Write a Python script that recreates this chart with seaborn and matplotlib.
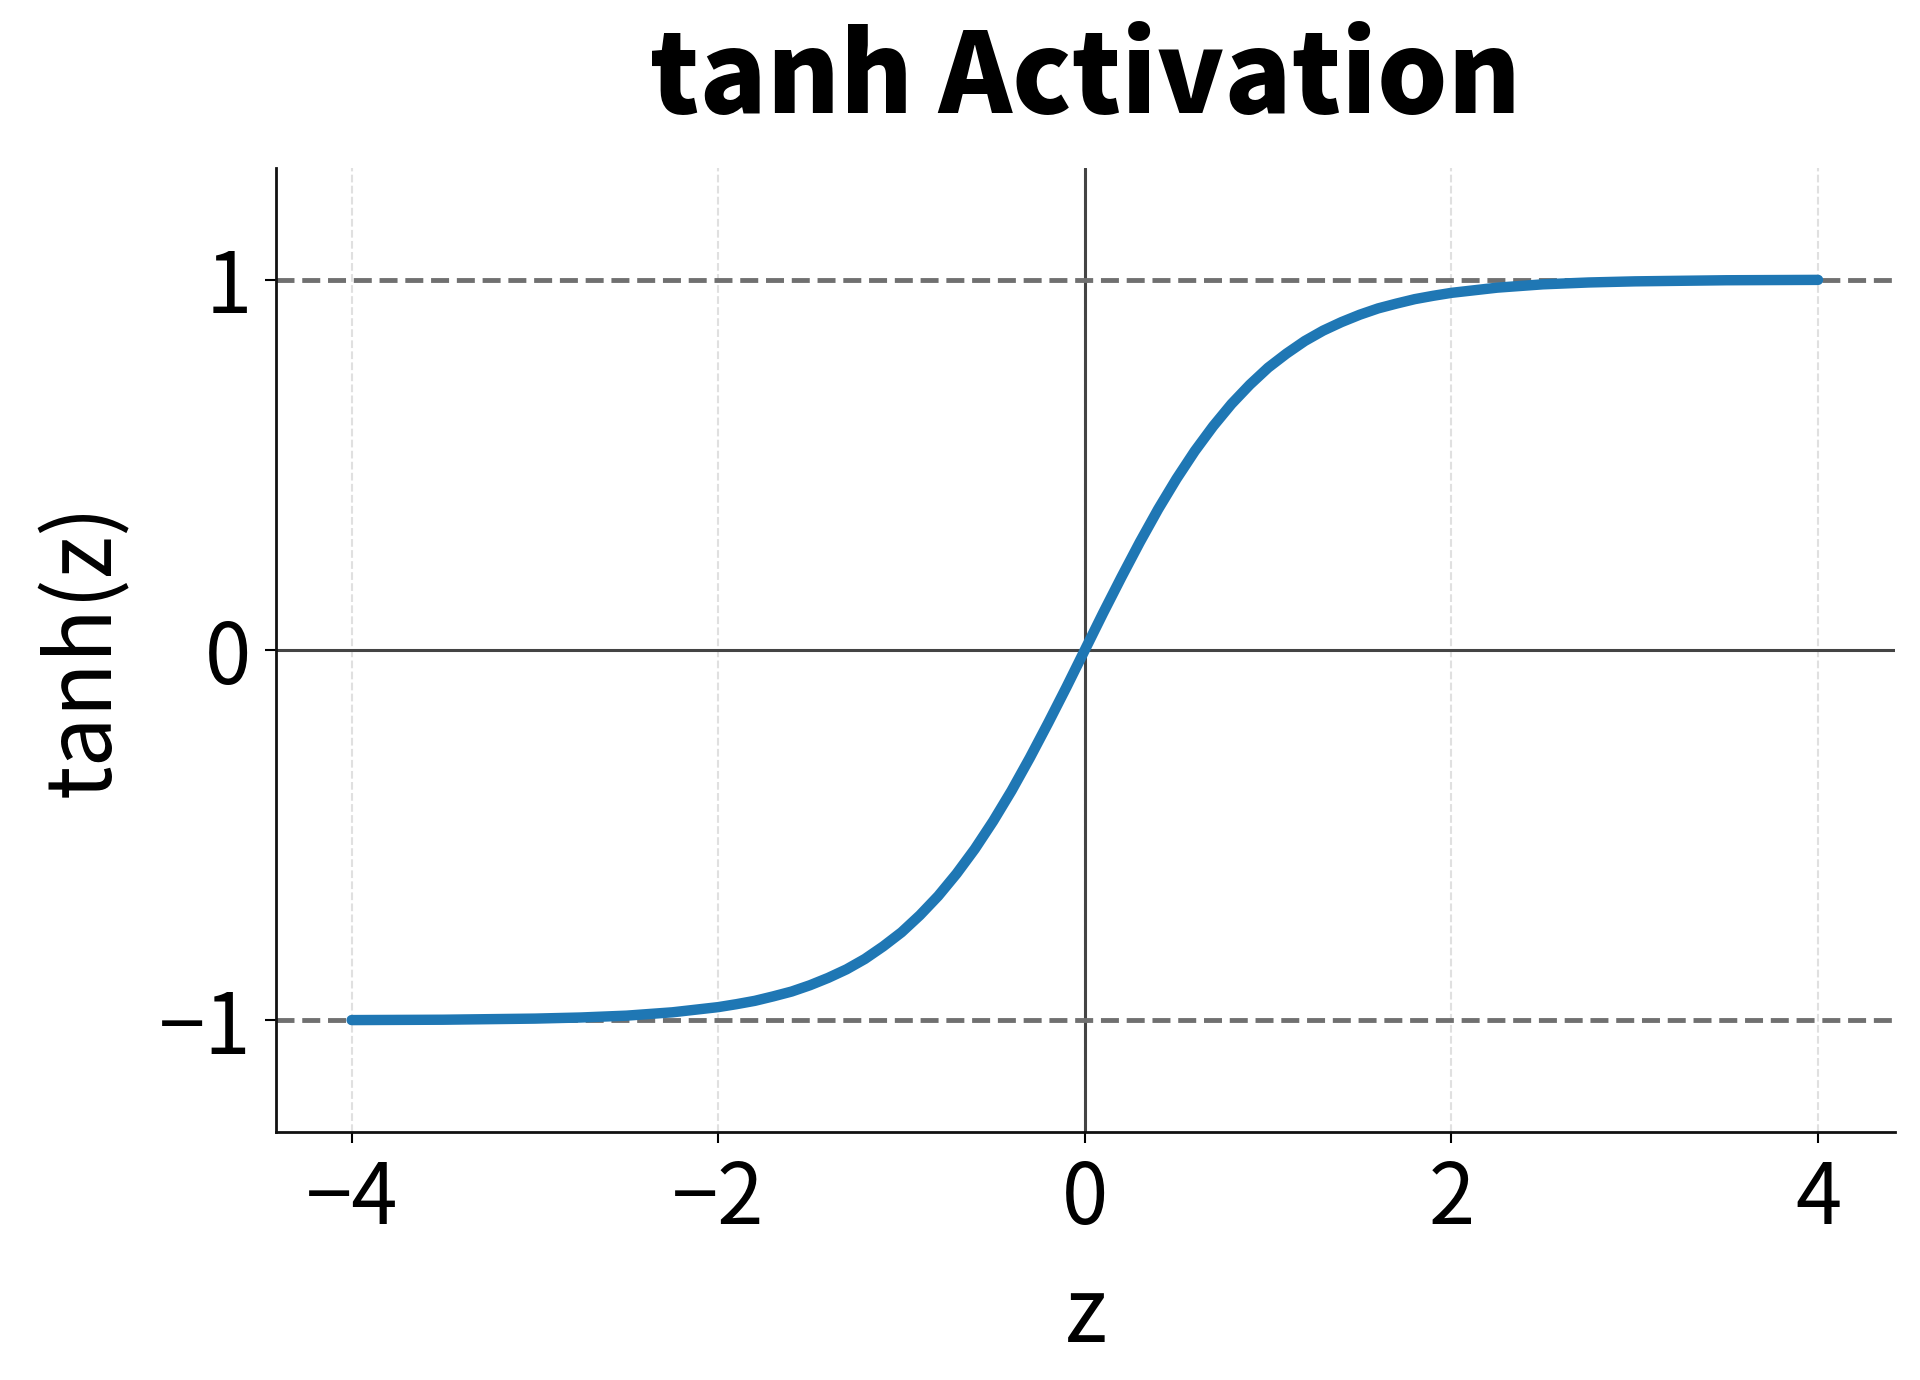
import seaborn as sns
import matplotlib.pyplot as plt

# tanh curve points
z_values = [-4.0, -3.5, -3.0, -2.75, -2.5, -2.25, -2.0, -1.9, -1.8, -1.7, -1.6, -1.5, -1.4,
            -1.3, -1.2, -1.1, -1.0, -0.9, -0.8, -0.7, -0.6, -0.5, -0.4, -0.3, -0.2, -0.1,
            0.0, 0.1, 0.2, 0.3, 0.4, 0.5, 0.6, 0.7, 0.8, 0.9, 1.0, 1.1, 1.2, 1.3, 1.4, 1.5,
            1.6, 1.7, 1.8, 1.9, 2.0, 2.25, 2.5, 2.75, 3.0, 3.5, 4.0]
tanh_values = [-0.999, -0.998, -0.995, -0.992, -0.987, -0.978, -0.964, -0.956, -0.947, -0.935,
               -0.922, -0.905, -0.885, -0.862, -0.834, -0.800, -0.762, -0.716, -0.664, -0.604,
               -0.537, -0.462, -0.380, -0.291, -0.197, -0.100,
               0.0, 0.100, 0.197, 0.291, 0.380, 0.462, 0.537, 0.604, 0.664, 0.716, 0.762, 0.800,
               0.834, 0.862, 0.885, 0.905, 0.922, 0.935, 0.947, 0.956, 0.964, 0.978, 0.987,
               0.992, 0.995, 0.998, 0.999]
x_ticks = [-4, -2, 0, 2, 4]
y_ticks = [-1, 0, 1]

sns.set_style("white")
plt.rcParams['font.family'] = ['Noto Sans CJK JP', 'DejaVu Sans']
plt.rcParams['text.color'] = 'black'
plt.rcParams['axes.labelcolor'] = 'black'
plt.rcParams['xtick.color'] = 'black'
plt.rcParams['ytick.color'] = 'black'

fig = plt.figure(figsize=(19.2, 13.8), dpi=100)
ax = fig.add_axes([0.144, 0.18, 0.843, 0.698])

for x in x_ticks:
    ax.axvline(x, color='#e0e0e0', linestyle='--', linewidth=1.5, zorder=0)
ax.axhline(0, color='#444444', linewidth=2.2, zorder=1)
ax.axvline(0, color='#444444', linewidth=2.2, zorder=1)
for y in (-1, 1):
    ax.axhline(y, color='#707070', linestyle='--', linewidth=3.5, zorder=1)

sns.lineplot(x=z_values, y=tanh_values, ax=ax, color='#1f77b4', linewidth=7.5, zorder=3)

ax.set_xlim(-4.41, 4.42)
ax.set_ylim(-1.3, 1.3)
ax.set_xticks(x_ticks)
ax.set_yticks(y_ticks)
ax.set_xticklabels(['\u22124', '\u22122', '0', '2', '4'])
ax.set_yticklabels(['\u22121', '0', '1'])
ax.tick_params(labelsize=60, length=8, width=1.5, bottom=True, left=True, pad=10)
for s in ('top', 'right'):
    ax.spines[s].set_visible(False)
for s in ('left', 'bottom'):
    ax.spines[s].set_linewidth(2)
    ax.spines[s].set_color('#111111')

ax.set_xlabel('z', fontsize=64, labelpad=20)
ax.set_ylabel('tanh(z)', fontsize=64, labelpad=20)
ax.set_title('tanh Activation', fontsize=80, fontweight='black', pad=40)

fig.savefig('out.png', dpi=100)
